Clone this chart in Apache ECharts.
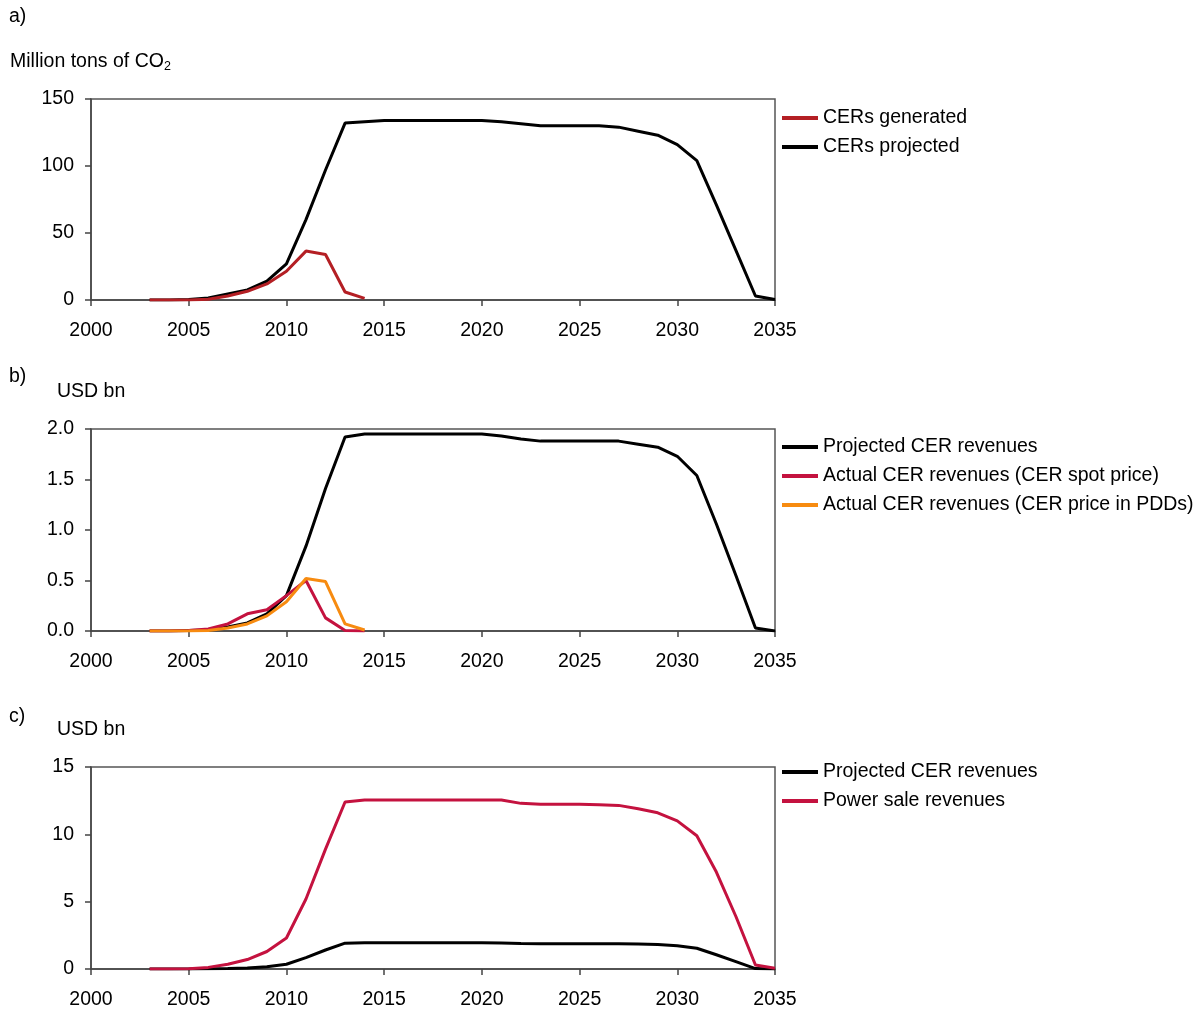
<!DOCTYPE html>
<html>
<head>
<meta charset="utf-8">
<script src="https://cdn.jsdelivr.net/npm/echarts@6/dist/echarts.min.js"></script>
<style>html,body{margin:0;padding:0;background:#fff}#c{width:1200px;height:1011px}</style>
</head>
<body>
<div id="c"></div>
<script>
const years = [2003,2004,2005,2006,2007,2008,2009,2010,2011,2012,2013,2014,2015,2016,2017,2018,2019,2020,2021,2022,2023,2024,2025,2026,2027,2028,2029,2030,2031,2032,2033,2034,2035];
const actualYears = [2003,2004,2005,2006,2007,2008,2009,2010,2011,2012,2013,2014];

// Panel a (Million tons of CO2)
const cersProjected = [0,0,0.3,1.5,4.5,7.5,14,27,60,97,132,133,134,134,134,134,134,134,133,131.5,130,130,130,130,129,126,123,116,104,71,37,3,0.3];
const cersGenerated = [0,0,0,0.5,3,6.5,12,21.5,36.5,34,6,1.2];

// Panel b (USD bn)
const projectedRevenues = [0,0,0.005,0.01,0.04,0.08,0.17,0.35,0.84,1.41,1.92,1.95,1.95,1.95,1.95,1.95,1.95,1.95,1.93,1.9,1.88,1.88,1.88,1.88,1.88,1.85,1.82,1.73,1.54,1.06,0.55,0.03,0.0];
const spotRevenues = [0,0,0.005,0.02,0.07,0.17,0.21,0.35,0.5,0.13,0.005,0];
const pddRevenues = [0,0,0,0.005,0.03,0.07,0.15,0.29,0.52,0.49,0.07,0.01];

// Panel c (USD bn)
const powerRevenues = [0,0,0.02,0.12,0.35,0.7,1.3,2.3,5.2,8.9,12.4,12.55,12.55,12.55,12.55,12.55,12.55,12.55,12.55,12.3,12.23,12.23,12.23,12.2,12.15,11.9,11.6,11.0,9.9,7.2,3.9,0.3,0.05];

const xTicks = {min:2000, max:2035, interval:5};
const yA = {min:0, max:150, interval:50};
const yB = {min:0, max:2, interval:0.5};
const yC = {min:0, max:15, interval:5};

const FONT = '"Liberation Sans", Arial, sans-serif';
const FS = 19.5;
const pairs = (xs, ys) => ys.map((v, i) => [xs[i], v]);

const chart = echarts.init(document.getElementById('c'), null, {renderer:'canvas'});

const grids = [
  {left:91, width:684, top:99, height:201},
  {left:91, width:684, top:429, height:202},
  {left:91, width:684, top:767, height:202}
];
const axisLineStyle = {color:'#444', width:1.5};

function xAxis(i){
  return {type:'value', gridIndex:i, min:xTicks.min, max:xTicks.max, interval:xTicks.interval,
    axisLine:{show:true, onZero:false, lineStyle:axisLineStyle},
    axisTick:{show:true, inside:false, length:6, lineStyle:axisLineStyle},
    splitLine:{show:false},
    axisLabel:{color:'#000', fontSize:FS, fontFamily:FONT, margin:21, formatter: v => String(v)}};
}
function yAxis(i, cfg, dec){
  return {type:'value', gridIndex:i, min:cfg.min, max:cfg.max, interval:cfg.interval,
    axisLine:{show:true, lineStyle:axisLineStyle},
    axisTick:{show:true, inside:false, length:6, lineStyle:axisLineStyle},
    splitLine:{show:false},
    axisLabel:{color:'#000', fontSize:FS, fontFamily:FONT, margin:17, padding:[4,0,0,0], formatter: v => v.toFixed(dec)}};
}
function line(name, xi, data, color, z){
  return {name, type:'line', xAxisIndex:xi, yAxisIndex:xi, data, showSymbol:false, symbol:'none',
    lineStyle:{color, width:3}, itemStyle:{color}, z:z||2, animation:false};
}
const RED_A = '#B41F24';
const RED = '#C4123F';
const ORANGE = '#F78B10';
const BLACK = '#000000';

const legendBase = {orient:'vertical', left:782, padding:0, icon:'rect', itemWidth:36, itemHeight:4, itemGap:8,
  textStyle:{fontSize:FS, fontFamily:FONT, color:'#000', lineHeight:21}, selectedMode:false};
const tStyle = {fontSize:FS, fontWeight:'normal', fontFamily:FONT, color:'#000'};

chart.setOption({
  animation:false,
  backgroundColor:'#fff',
  title:[
    {text:'a)', left:9, top:7, padding:0, textStyle:tStyle},
    {text:'{m|Million tons of CO}{s|2}', left:10, top:50, padding:0, textStyle:{rich:{
      m:{fontSize:FS, fontWeight:'normal', fontFamily:FONT, color:'#000'},
      s:{fontSize:12.5, fontWeight:'normal', fontFamily:FONT, color:'#000', padding:[10,0,0,0]}}}},
    {text:'b)', left:9, top:367, padding:0, textStyle:tStyle},
    {text:'USD bn', left:57, top:382, padding:0, textStyle:tStyle},
    {text:'c)', left:9, top:707, padding:0, textStyle:tStyle},
    {text:'USD bn', left:57, top:720, padding:0, textStyle:tStyle}
  ],
  grid: grids.map(g => Object.assign({show:true, borderColor:'#555', borderWidth:1.5, backgroundColor:'transparent'}, g)),
  xAxis:[xAxis(0), xAxis(1), xAxis(2)],
  yAxis:[yAxis(0, yA, 0), yAxis(1, yB, 1), yAxis(2, yC, 0)],
  legend:[
    Object.assign({}, legendBase, {top:107.5, data:['CERs generated','CERs projected']}),
    Object.assign({}, legendBase, {top:436.5, data:['Projected CER revenues','Actual CER revenues (CER spot price)','Actual CER revenues (CER price in PDDs)']}),
    Object.assign({}, legendBase, {top:761.5, data:[{name:'Projected CER revenues '}, {name:'Power sale revenues'}]})
  ],
  series:[
    line('CERs projected', 0, pairs(years, cersProjected), BLACK, 2),
    line('CERs generated', 0, pairs(actualYears, cersGenerated), RED_A, 3),
    line('Projected CER revenues', 1, pairs(years, projectedRevenues), BLACK, 2),
    line('Actual CER revenues (CER spot price)', 1, pairs(actualYears, spotRevenues), RED, 3),
    line('Actual CER revenues (CER price in PDDs)', 1, pairs(actualYears, pddRevenues), ORANGE, 4),
    line('Projected CER revenues ', 2, pairs(years, projectedRevenues), BLACK, 2),
    line('Power sale revenues', 2, pairs(years, powerRevenues), RED, 3)
  ]
});
</script>
</body>
</html>
